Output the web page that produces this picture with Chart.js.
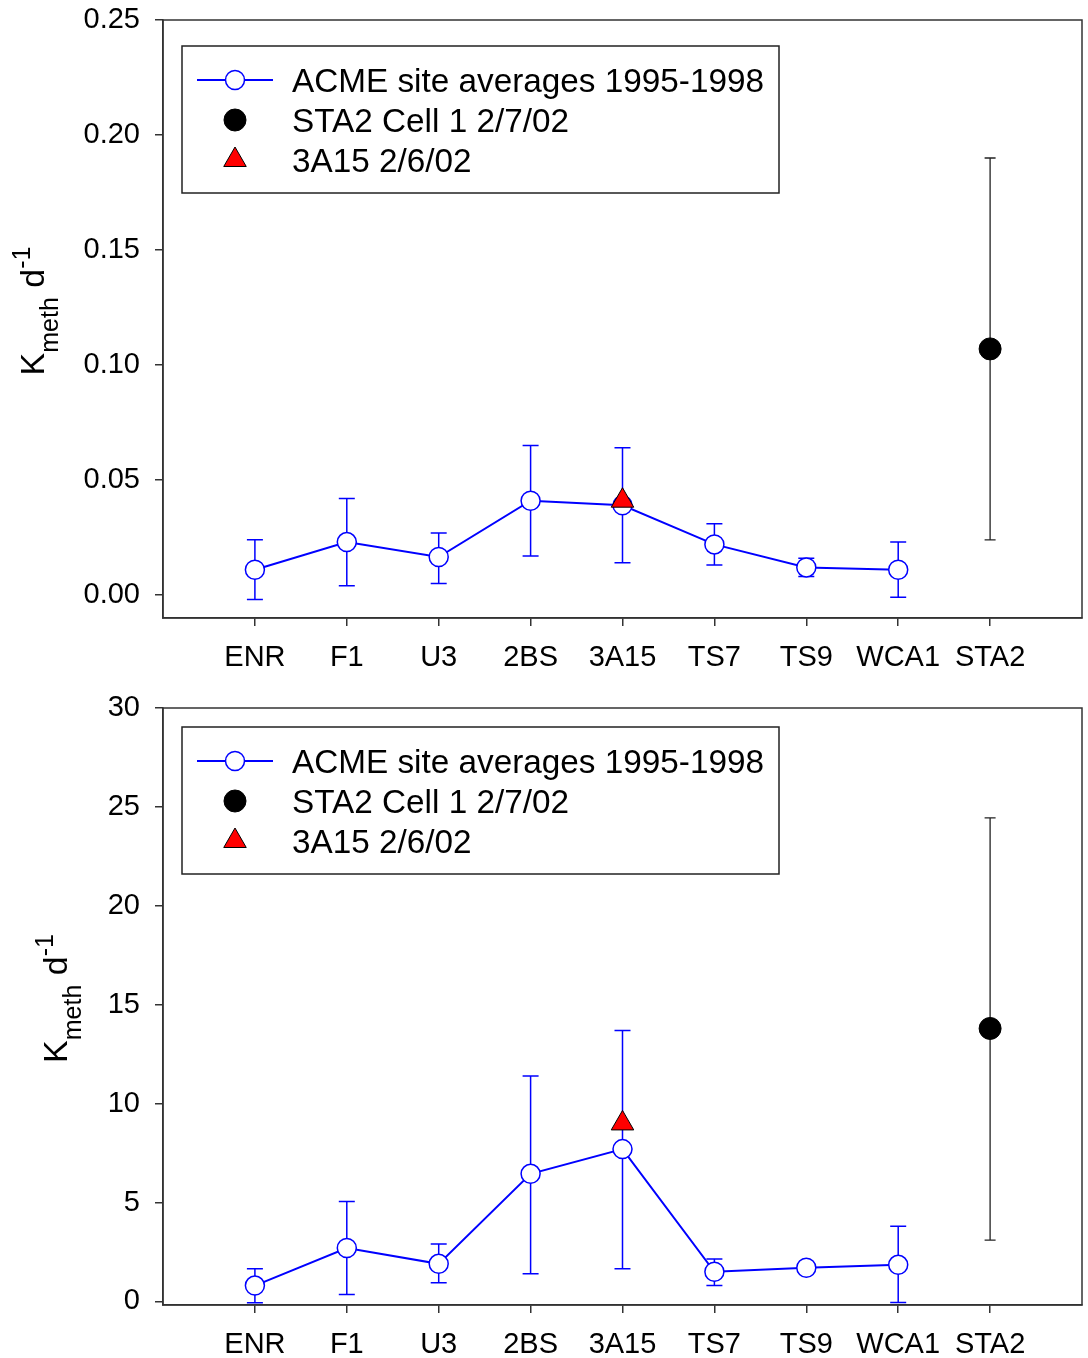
<!DOCTYPE html>
<html>

<head>
  <title>Kmeth by site</title>
  <script src="https://cdn.jsdelivr.net/npm/chart.js"></script>
  <style>
    html,
    body {
      margin: 0;
      padding: 0;
      background-color: #fff;
      overflow: hidden;
    }

    .panel {
      position: relative;
      width: 1088px;
      height: 679px;
    }

    .panel canvas {
      display: block;
    }
  </style>
</head>

<body>
  <div class="panel"><canvas id="rateChart"></canvas></div>
  <div class="panel"><canvas id="fluxChart"></canvas></div>

  <script>
    // sites along the x axis (placed at x = 1..9)
    const sites = ['ENR', 'F1', 'U3', '2BS', '3A15', 'TS7', 'TS9', 'WCA1', 'STA2'];
    const siteTicks = [1, 2, 3, 4, 5, 6, 7, 8, 9];
    const legendLabels = ['ACME site averages 1995-1998', 'STA2 Cell 1 2/7/02', '3A15 2/6/02'];

    // upper panel
    const rateTicks = [0, 0.05, 0.10, 0.15, 0.20, 0.25];
    const acmeRate = [0.011, 0.023, 0.0165, 0.041, 0.039, 0.022, 0.012, 0.011];
    const acmeRateHigh = [0.024, 0.042, 0.027, 0.065, 0.064, 0.031, 0.016, 0.023];
    const acmeRateLow = [-0.002, 0.004, 0.005, 0.017, 0.014, 0.013, 0.008, -0.001];
    const sta2Rate = [0.107];
    const sta2RateHigh = [0.190];
    const sta2RateLow = [0.024];
    const a15Rate = [0.041];

    // lower panel
    const fluxTicks = [0, 5, 10, 15, 20, 25, 30];
    const acmeFlux = [0.8, 2.7, 1.9, 6.45, 7.7, 1.5, 1.7, 1.85];
    const acmeFluxHigh = [1.65, 5.05, 2.9, 11.4, 13.7, 2.15, 1.85, 3.8];
    const acmeFluxLow = [-0.07, 0.35, 0.95, 1.4, 1.65, 0.8, 1.55, -0.05];
    const sta2Flux = [13.8];
    const sta2FluxHigh = [24.45];
    const sta2FluxLow = [3.1];
    const a15Flux = [9.0];

    const FONT = '"Liberation Sans", Arial, sans-serif';
    Chart.defaults.font.family = FONT;
    Chart.defaults.color = '#000';

    function atSite(name, values) {
      const x = sites.indexOf(name) + 1;
      return values.map(v => ({ x: x, y: v }));
    }

    function atSites(values) {
      return values.map((v, i) => ({ x: i + 1, y: v }));
    }

    // keep the plot box exactly where layout.padding puts it
    function noLabelPadding(scale) {
      scale.paddingTop = 0;
      scale.paddingBottom = 0;
      scale.paddingLeft = 0;
      scale.paddingRight = 0;
    }

    // vertical error bars with caps, drawn under the markers
    const errorBars = {
      id: 'errorBars',
      beforeDatasetsDraw(chart) {
        const { ctx, scales: { x, y } } = chart;
        chart.data.datasets.forEach(ds => {
          if (!ds.errHigh) return;
          ctx.save();
          ctx.strokeStyle = ds.errColor;
          ctx.lineWidth = ds.errWidth;
          ds.data.forEach((p, i) => {
            const px = x.getPixelForValue(p.x);
            const top = y.getPixelForValue(ds.errHigh[i]);
            const bot = y.getPixelForValue(ds.errLow[i]);
            ctx.beginPath();
            ctx.moveTo(px, top);
            ctx.lineTo(px, bot);
            ctx.moveTo(px - ds.capHalf, top);
            ctx.lineTo(px + ds.capHalf, top);
            ctx.moveTo(px - ds.capHalf, bot);
            ctx.lineTo(px + ds.capHalf, bot);
            ctx.stroke();
          });
          ctx.restore();
        });
      }
    };

    // closes the plot box (top and right edges)
    const frame = {
      id: 'frame',
      afterDraw(chart) {
        const { ctx, chartArea: a } = chart;
        ctx.save();
        ctx.strokeStyle = '#333';
        ctx.lineWidth = 1.5;
        ctx.strokeRect(a.left, a.top, a.right - a.left, a.bottom - a.top);
        ctx.restore();
      }
    };

    // boxed legend in the upper left of the plot
    const legendBox = {
      id: 'legendBox',
      afterDraw(chart, args, opts) {
        const { ctx, chartArea } = chart;
        const bx = chartArea.left + 19;
        const by = chartArea.top + opts.dy;
        const h = Chart.helpers;
        ctx.save();
        ctx.strokeStyle = '#222';
        ctx.lineWidth = 1.5;
        ctx.strokeRect(bx, by, 597, 147);

        // line with open circle
        ctx.strokeStyle = 'blue';
        ctx.lineWidth = 2;
        ctx.beginPath();
        ctx.moveTo(bx + 15, by + 34);
        ctx.lineTo(bx + 91, by + 34);
        ctx.stroke();
        ctx.fillStyle = '#fff';
        ctx.lineWidth = 1.5;
        h.drawPoint(ctx, { pointStyle: 'circle', radius: 9.5, borderWidth: 1.5, rotation: 0 }, bx + 53, by + 34);

        // filled black circle
        ctx.fillStyle = '#000';
        ctx.strokeStyle = '#000';
        ctx.lineWidth = 1;
        h.drawPoint(ctx, { pointStyle: 'circle', radius: 11, borderWidth: 1, rotation: 0 }, bx + 53, by + 74);

        // red triangle
        ctx.fillStyle = 'red';
        ctx.strokeStyle = '#000';
        h.drawPoint(ctx, { pointStyle: 'triangle', radius: 13, borderWidth: 1, rotation: 0 }, bx + 53, by + 114);

        ctx.fillStyle = '#000';
        ctx.font = '33.3px ' + FONT;
        ctx.textBaseline = 'alphabetic';
        legendLabels.forEach((t, i) => ctx.fillText(t, bx + 110, by + 46 + i * 40));
        ctx.restore();
      }
    };

    // rotated y title: K with subscript "meth", then d with superscript "-1"
    const yTitle = {
      id: 'yTitle',
      afterDraw(chart, args, opts) {
        const { ctx, chartArea } = chart;
        const parts = [
          { t: 'K', size: 34, dy: 0 },
          { t: 'meth', size: 25, dy: 14 },
          { t: ' d', size: 34, dy: 0 },
          { t: '-1', size: 25, dy: -14 }
        ];
        ctx.save();
        let total = 0;
        parts.forEach(p => {
          ctx.font = p.size + 'px ' + FONT;
          p.w = ctx.measureText(p.t).width;
          total += p.w;
        });
        const cy = (chartArea.top + chartArea.bottom) / 2 - 8;
        ctx.translate(opts.x, cy);
        ctx.rotate(-Math.PI / 2);
        ctx.fillStyle = '#000';
        ctx.textBaseline = 'alphabetic';
        let cx = -total / 2;
        parts.forEach(p => {
          ctx.font = p.size + 'px ' + FONT;
          ctx.fillText(p.t, cx, p.dy);
          cx += p.w;
        });
        ctx.restore();
      }
    };

    function drawPanel(id, s) {
      const ctx = document.getElementById(id).getContext('2d');
      return new Chart(ctx, {
        type: 'scatter',
        data: {
          datasets: [{
            label: legendLabels[2],
            data: atSite('3A15', s.a15),
            pointStyle: 'triangle',
            pointRadius: 13,
            pointBackgroundColor: 'red',
            pointBorderColor: '#000',
            pointBorderWidth: 1,
            order: 0
          },
          {
            label: legendLabels[1],
            data: atSite('STA2', s.sta2),
            pointStyle: 'circle',
            pointRadius: 11,
            pointBackgroundColor: '#000',
            pointBorderColor: '#000',
            pointBorderWidth: 1,
            errHigh: s.sta2High,
            errLow: s.sta2Low,
            errColor: '#222',
            errWidth: 1.3,
            capHalf: 5.5,
            order: 1
          },
          {
            label: legendLabels[0],
            data: atSites(s.acme),
            showLine: true,
            borderColor: 'blue',
            borderWidth: 2,
            pointStyle: 'circle',
            pointRadius: 9.5,
            pointBackgroundColor: '#fff',
            pointBorderColor: 'blue',
            pointBorderWidth: 1.5,
            errHigh: s.acmeHigh,
            errLow: s.acmeLow,
            errColor: 'blue',
            errWidth: 1.5,
            capHalf: 8,
            order: 2
          }]
        },
        options: {
          responsive: true,
          maintainAspectRatio: false,
          animation: false,
          events: [],
          layout: {
            autoPadding: false,
            padding: { top: s.padTop, right: 6, left: 0, bottom: 0 }
          },
          scales: {
            x: {
              type: 'linear',
              min: 0,
              max: 10,
              afterBuildTicks: scale => {
                scale.ticks = siteTicks.map(v => ({ value: v }));
              },
              afterFit: scale => {
                scale.height = s.xHeight;
                noLabelPadding(scale);
              },
              ticks: {
                callback: v => sites[v - 1],
                font: { size: 29 },
                color: '#000',
                padding: 15,
                maxRotation: 0,
                autoSkip: false
              },
              grid: {
                drawOnChartArea: false,
                drawTicks: true,
                tickLength: 8,
                color: '#333',
                lineWidth: 1.5
              },
              border: { display: true, color: '#333', width: 1.5 }
            },
            y: {
              min: s.yMin,
              max: s.yMax,
              afterBuildTicks: scale => {
                scale.ticks = s.ticks.map(v => ({ value: v }));
              },
              afterFit: scale => {
                scale.width = 163;
                noLabelPadding(scale);
              },
              ticks: {
                callback: v => v.toFixed(s.digits),
                font: { size: 29 },
                color: '#000',
                padding: 15
              },
              grid: {
                drawOnChartArea: false,
                drawTicks: true,
                tickLength: 8,
                color: '#333',
                lineWidth: 1.5
              },
              border: { display: true, color: '#333', width: 1.5 }
            }
          },
          plugins: {
            legend: { display: false },
            tooltip: { enabled: false },
            legendBox: { dy: s.legendTop },
            yTitle: { x: s.titleX }
          }
        },
        plugins: [errorBars, frame, legendBox, yTitle]
      });
    }

    drawPanel('rateChart', {
      acme: acmeRate, acmeHigh: acmeRateHigh, acmeLow: acmeRateLow,
      sta2: sta2Rate, sta2High: sta2RateHigh, sta2Low: sta2RateLow,
      a15: a15Rate, ticks: rateTicks, digits: 2,
      yMin: -0.01, yMax: 0.25,
      padTop: 20, xHeight: 61, legendTop: 26, titleX: 44
    });

    drawPanel('fluxChart', {
      acme: acmeFlux, acmeHigh: acmeFluxHigh, acmeLow: acmeFluxLow,
      sta2: sta2Flux, sta2High: sta2FluxHigh, sta2Low: sta2FluxLow,
      a15: a15Flux, ticks: fluxTicks, digits: 0,
      yMin: -0.18, yMax: 30,
      padTop: 29, xHeight: 53, legendTop: 19, titleX: 67
    });
  </script>
</body>

</html>
